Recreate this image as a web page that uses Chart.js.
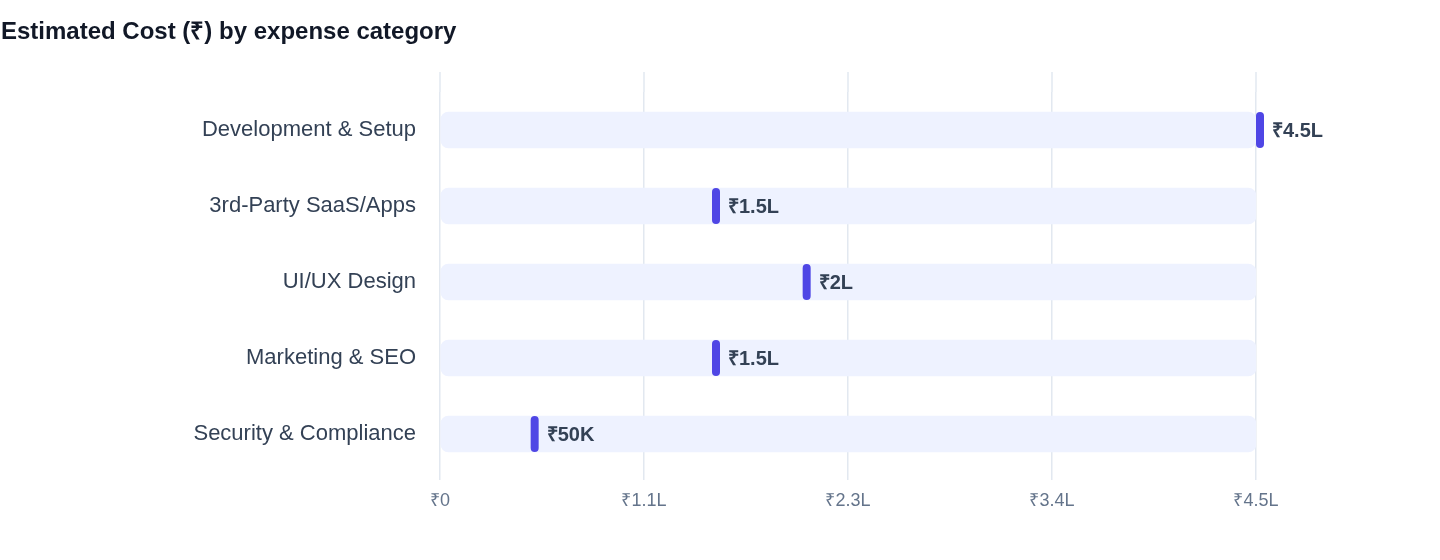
<!DOCTYPE html>
<html><head><meta charset="utf-8">
<script src="https://cdn.jsdelivr.net/npm/chart.js@4/dist/chart.umd.min.js"></script>
<style>html,body{margin:0;padding:0;background:#fff}#w{width:1440px;height:560px}</style>
</head><body><div id="w"><canvas id="c"></canvas></div>
<script>
const categories = ["Development & Setup","3rd-Party SaaS/Apps","UI/UX Design","Marketing & SEO","Security & Compliance"];
const values = [450000,150000,200000,150000,50000];
const valueLabels = ["₹4.5L","₹1.5L","₹2L","₹1.5L","₹50K"];
const trackMax = [450000,450000,450000,450000,450000];
const tickLabels = ["₹0","₹1.1L","₹2.3L","₹3.4L","₹4.5L"];
const FONT = "'Liberation Sans', Arial, Helvetica, sans-serif";

const markerPlugin = {
  id:'marker',
  beforeDatasetsDraw(chart){
    // extend grid lines slightly above the plotting area like the reference
    const ctx = chart.ctx, xs = chart.scales.x, top = chart.chartArea.top;
    ctx.save();
    ctx.strokeStyle = '#e2e8f0'; ctx.lineWidth = 1.5;
    xs.ticks.forEach((t,i)=>{
      const x = xs.getPixelForTick(i);
      ctx.beginPath(); ctx.moveTo(x, top-20); ctx.lineTo(x, top); ctx.stroke();
    });
    ctx.restore();
  },
  afterDatasetsDraw(chart){
    const ctx = chart.ctx;
    const meta = chart.getDatasetMeta(1);
    meta.data.forEach((el,i)=>{
      const x = el.x, y = el.y, h = 36, w = 8;
      ctx.save();
      ctx.fillStyle = '#4f46e5';
      ctx.beginPath();
      ctx.roundRect(x, y-h/2, w, h, 4);
      ctx.fill();
      ctx.fillStyle = '#334155';
      ctx.font = 'bold 20px ' + FONT;
      ctx.textBaseline = 'middle';
      ctx.fillText(valueLabels[i], x + w + 8, y + 1);
      ctx.restore();
    });
    ctx.save();
    ctx.fillStyle = '#111827';
    ctx.font = 'bold 24px ' + FONT;
    ctx.textBaseline = 'middle';
    ctx.fillText('Estimated Cost (₹) by expense category', 1, 32);
    ctx.restore();
  }
};

new Chart(document.getElementById('c'), {
  type:'bar',
  data:{labels:categories, datasets:[
    {data:trackMax, backgroundColor:'#eef2ff', borderRadius:8, borderSkipped:false, barThickness:36, grouped:false, order:2},
    {data:values, backgroundColor:'rgba(0,0,0,0)', barThickness:36, grouped:false, order:1}
  ]},
  options:{
    indexAxis:'y', responsive:true, maintainAspectRatio:false, animation:false,
    layout:{padding:{top:92,right:184,left:0,bottom:0}},
    plugins:{legend:{display:false},tooltip:{enabled:false}},
    scales:{
      x:{min:0,max:450000,
        ticks:{stepSize:112500,color:'#64748b',font:{size:18,family:FONT},padding:10,
          callback:(v,i)=>tickLabels[i]},
        grid:{color:'#e2e8f0',lineWidth:1.5,tickLength:8,drawTicks:true},
        border:{display:false},
        afterFit(s){s.height=88;}
      },
      y:{ticks:{color:'#334155',font:{size:22,family:FONT},padding:16},
        grid:{display:false},border:{display:false},
        afterFit(s){s.width=440;}
      }
    }
  },
  plugins:[markerPlugin]
});
</script></body></html>
